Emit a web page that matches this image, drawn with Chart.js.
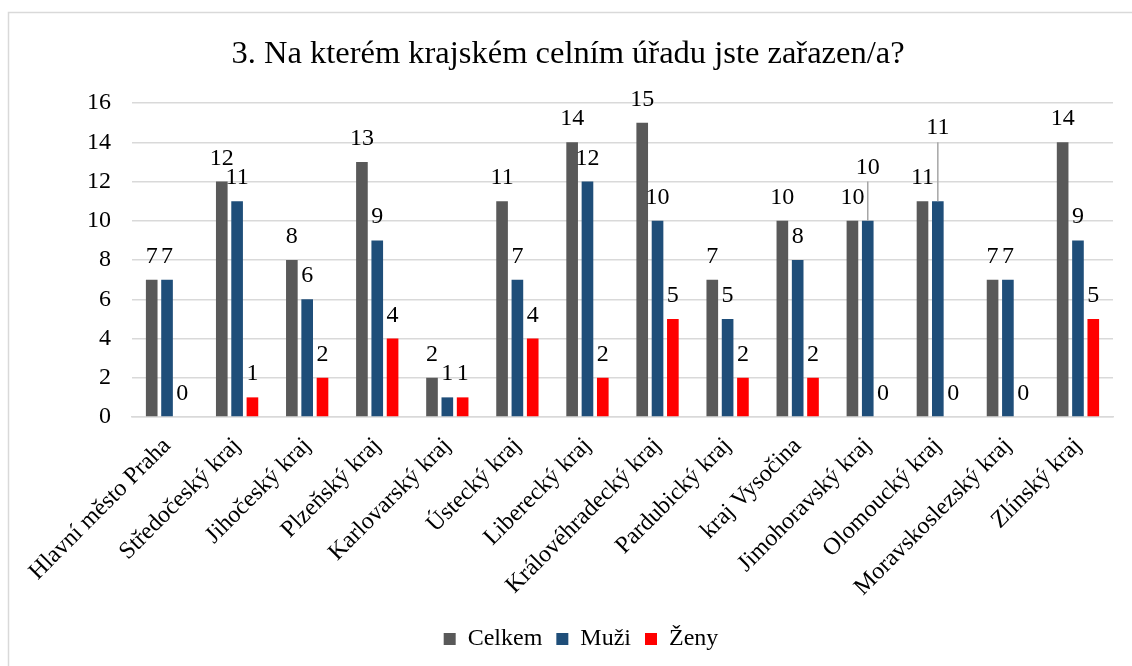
<!DOCTYPE html>
<html>
<head>
<meta charset="utf-8">
<script src="https://cdn.jsdelivr.net/npm/chart.js@4/dist/chart.umd.min.js"></script>
<style>
html,body{margin:0;padding:0;background:#fff;}
#wrap{position:relative;width:1132px;height:666px;}
canvas{display:block;}
</style>
</head>
<body>
<div id="wrap"><canvas id="c" width="1132" height="666"></canvas></div>
<script>
const categories = ["Hlavní město Praha","Středočeský kraj","Jihočeský kraj","Plzeňský kraj","Karlovarský kraj","Ústecký kraj","Liberecký kraj","Královéhradecký kraj","Pardubický kraj","kraj Vysočina","Jimohoravský kraj","Olomoucký kraj","Moravskoslezský kraj","Zlínský kraj"];
const celkem = [7,12,8,13,2,11,14,15,7,10,10,11,7,14];
const muzi   = [7,11,6,9,1,7,12,10,5,8,10,11,7,9];
const zeny   = [0,1,2,4,1,4,2,5,2,2,0,0,0,5];
const seriesNames = ["Celkem","Muži","Ženy"];
const chartTitle = "3. Na kterém krajském celním úřadu jste zařazen/a?";
const yMax = 16, yStep = 2;

const FONT = "'Liberation Serif','Times New Roman',serif";

const borderPlugin = {
  id: 'frame',
  afterLayout(chart) {
    if (chart.legend) {
      chart.legend.left += 13;
      chart.legend.right += 13;
    }
  },
  beforeDraw(chart) {
    const ctx = chart.ctx;
    ctx.save();
    ctx.fillStyle = '#fff';
    ctx.fillRect(0,0,chart.width,chart.height);
    ctx.strokeStyle = '#d9d9d9';
    ctx.lineWidth = 1.5;
    ctx.beginPath();
    ctx.moveTo(8.5, chart.height);
    ctx.lineTo(8.5, 12.5);
    ctx.lineTo(chart.width, 12.5);
    ctx.stroke();
    ctx.restore();
  }
};

const labelPlugin = {
  id: 'barLabels',
  afterDatasetsDraw(chart, args, opts) {
    const ctx = chart.ctx;
    const yScale = chart.scales.y;
    ctx.save();
    ctx.font = "24px " + FONT;
    ctx.fillStyle = '#000';
    ctx.textAlign = 'center';
    ctx.textBaseline = 'alphabetic';
    chart.data.datasets.forEach((ds, di) => {
      const meta = chart.getDatasetMeta(di);
      meta.data.forEach((bar, i) => {
        const v = ds.data[i];
        const leader = (opts.leaders || []).find(l => l.dataset === di && l.index === i);
        if (leader) {
          const topY = yScale.getPixelForValue(leader.toValue);
          ctx.strokeStyle = '#a6a6a6';
          ctx.lineWidth = 1.5;
          ctx.beginPath();
          ctx.moveTo(bar.x, bar.y);
          ctx.lineTo(bar.x, topY);
          ctx.stroke();
          ctx.fillText(String(v), bar.x, topY - 8);
        } else {
          ctx.fillText(String(v), bar.x, bar.y - 17);
        }
      });
    });
    ctx.restore();
  }
};

new Chart(document.getElementById('c'), {
  type: 'bar',
  data: {
    labels: categories,
    datasets: [
      {label: seriesNames[0], data: celkem, backgroundColor: '#595959'},
      {label: seriesNames[1], data: muzi, backgroundColor: '#1f4e79'},
      {label: seriesNames[2], data: zeny, backgroundColor: '#ff0000'}
    ]
  },
  options: {
    responsive: false,
    animation: false,
    devicePixelRatio: 1,
    categoryPercentage: 0.656,
    barPercentage: 0.76,
    layout: {padding: {left: 23, right: 19, top: 0, bottom: 5}},
    plugins: {
      title: {
        display: true,
        text: chartTitle,
        color: '#000',
        font: {family: FONT, size: 32.5, weight: 'normal'},
        padding: {top: 35, bottom: 29}
      },
      legend: {
        position: 'bottom',
        labels: {
          color: '#000',
          font: {family: FONT, size: 24},
          boxWidth: 12,
          boxHeight: 12,
          padding: 14
        }
      },
      tooltip: {enabled: false},
      barLabels: {
        leaders: [
          {dataset: 1, index: 10, toValue: 12},
          {dataset: 1, index: 11, toValue: 14}
        ]
      }
    },
    scales: {
      x: {
        grid: {display: false, drawTicks: false},
        border: {display: true, color: '#d9d9d9', width: 1.5},
        ticks: {
          color: '#000',
          font: {family: FONT, size: 24},
          minRotation: 45, maxRotation: 45,
          autoSkip: false,
          padding: 15
        },
        afterFit(scale) { scale.height = 196; }
      },
      y: {
        min: 0, max: yMax,
        grid: {color: '#d9d9d9', lineWidth: 1.5, drawTicks: false},
        border: {display: false},
        ticks: {
          stepSize: yStep,
          color: '#000',
          font: {family: FONT, size: 24},
          padding: 21
        },
        afterFit(scale) { scale.width = 109; }
      }
    }
  },
  plugins: [borderPlugin, labelPlugin]
});
</script>
</body>
</html>
